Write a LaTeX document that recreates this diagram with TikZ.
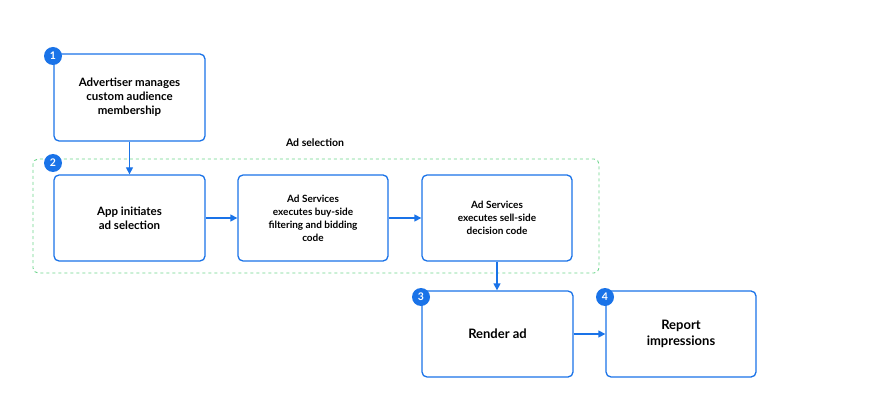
\documentclass[tikz,border=0pt]{standalone}
\usepackage{fontspec}
\setmainfont{Lato}
\usetikzlibrary{arrows.meta}
\definecolor{gblue}{HTML}{1A73E8}
\definecolor{ggreen}{HTML}{6DD58C}
\begin{document}
\begin{tikzpicture}[x=1pt,y=-1pt,
  box/.style={draw=gblue,line width=1.3pt,rounded corners=5pt,fill=white,align=center,font=\bfseries\fontsize{11.5}{14}\selectfont,inner sep=0},
  sbox/.style={box,font=\bfseries\fontsize{10}{13}\selectfont},
  badge/.style={circle,fill=gblue,text=white,minimum size=18pt,inner sep=0,font=\bfseries\fontsize{10.5}{12}\selectfont},
  arr/.style={draw=gblue,line width=1.3pt,-{Triangle[length=7pt,width=7pt]}}]
\useasboundingbox (0,0) rectangle (874,403);
\draw[ggreen,dashed,line width=0.9pt,rounded corners=5pt] (33,159) rectangle (599,273);
\node[font=\bfseries\fontsize{10.5}{12}\selectfont] (lab) at (315,143) {Ad selection};
\node[box,minimum width=151pt,minimum height=87pt] (n1) at (129.5,97.5) {Advertiser manages\\custom audience\\membership};
\node[box,minimum width=151pt,minimum height=86pt] (n2) at (129.5,218) {App initiates\\ad selection};
\node[sbox,minimum width=150pt,minimum height=86pt] (nb) at (313,218) {Ad Services\\executes buy-side\\filtering and bidding\\code};
\node[sbox,minimum width=150pt,minimum height=86pt] (nc) at (497,218) {Ad Services\\executes sell-side\\decision code};
\node[box,minimum width=151pt,minimum height=86pt,font=\bfseries\fontsize{13}{16}\selectfont] (n3) at (497.5,334) {Render ad};
\node[box,minimum width=150pt,minimum height=86pt,font=\bfseries\fontsize{13}{16}\selectfont] (n4) at (681,334) {Report\\impressions};
\node[badge] (b1) at (53,56) {1};
\node[badge] (b2) at (53,163) {2};
\node[badge] (b3) at (421,297) {3};
\node[badge] (b4) at (605,297) {4};
\draw[arr] (n1) -- (n2);
\draw[arr] (n2) -- (nb);
\draw[arr] (nb) -- (nc);
\draw[arr] (nc.south -| 497,0) -- (n3.north -| 497,0);
\draw[arr] (n3) -- (n4);
\end{tikzpicture}
\end{document}
